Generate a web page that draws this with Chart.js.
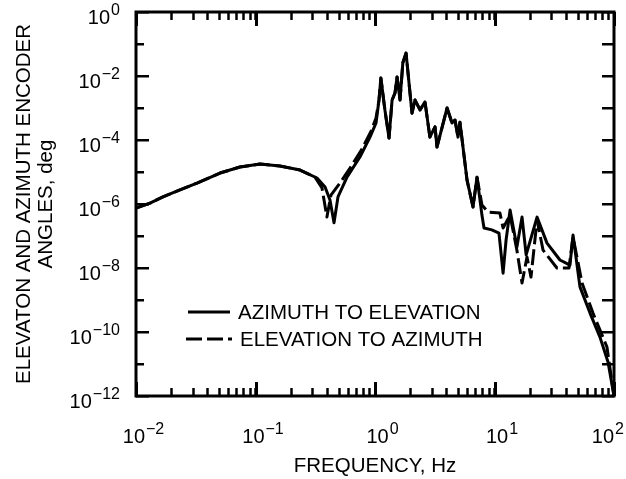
<!DOCTYPE html>
<html><head><meta charset="utf-8">
<script src="https://cdn.jsdelivr.net/npm/chart.js@4/dist/chart.umd.min.js"></script>
<style>html,body{margin:0;padding:0;background:#fff}canvas{display:block}</style>
</head><body>
<canvas id="c" width="626" height="479"></canvas>
<script>
// ---- data ----
const seriesNames = ['AZIMUTH TO ELEVATION', 'ELEVATION TO AZIMUTH'];
const azFreq = [0.01,0.0131,0.0168,0.0233,0.0324,0.0505,0.0741,0.109,0.160,0.236,0.327,0.382,0.420,0.454,0.490,0.583,0.748,0.908,1.02,1.08,1.12,1.21,1.31,1.39,1.47,1.53,1.62,1.71,1.82,1.89,2.04,2.16,2.38,2.62,2.88,3.18,3.30,4.01,4.41,4.67,4.95,5.14,5.89,6.61,7.14,7.85,8.17,9.5,10.9,11.8,12.5,13.5,15.4,17.0,18.4,22.7,27.5,35.3,42.8,45.4,51.9,63.0,76.3,89.1,100];
const azVal = [7.5e-7,1.07e-6,1.66e-6,2.75e-6,4.5e-6,9.3e-6,1.43e-5,1.78e-5,1.55e-5,1.15e-5,6.5e-6,3.4e-6,1.33e-6,2.6e-7,1.66e-6,6.9e-6,2.95e-5,1.23e-4,3.4e-4,1.78e-3,8.7e-3,8.7e-4,1.15e-4,1.78e-3,2.95e-3,9.3e-3,1.78e-3,2.6e-2,5.2e-2,1.23e-2,6.9e-4,1.78e-3,8.7e-4,1.55e-3,1.23e-4,2.57e-4,6.0e-5,1.0e-3,3.4e-4,4.2e-4,1.23e-4,3.6e-4,5.6e-6,8.1e-7,6.9e-6,4.5e-7,1.78e-7,1.55e-7,1.23e-7,6.9e-9,7.5e-8,6.5e-7,4.5e-8,3.9e-7,2.57e-8,3.9e-7,6.0e-8,1.78e-8,1.23e-8,1.07e-7,2.57e-9,3.9e-10,6.9e-11,1.15e-11,1e-12];
const elFreq = [0.01,0.0131,0.0168,0.0233,0.0324,0.0505,0.0741,0.109,0.160,0.236,0.315,0.360,0.396,0.428,0.509,0.618,0.778,0.927,1.02,1.08,1.12,1.21,1.31,1.39,1.47,1.53,1.62,1.71,1.82,1.89,2.04,2.16,2.38,2.62,2.88,3.18,3.30,4.01,4.41,4.67,4.95,5.14,5.89,6.61,7.14,7.85,8.83,11.1,11.8,13.5,15.4,17.0,18.7,20.2,22.7,25.5,33.3,42.0,45.4,54.0,66.7,87.3,100];
const elVal = [7.5e-7,1.07e-6,1.66e-6,2.75e-6,4.5e-6,9.3e-6,1.43e-5,1.78e-5,1.55e-5,1.15e-5,6.9e-6,3.2e-6,3.9e-7,1.9e-6,4.5e-6,1.33e-5,5.2e-5,1.9e-4,4.9e-4,1.78e-3,8.7e-3,8.7e-4,1.15e-4,1.78e-3,2.95e-3,9.3e-3,1.78e-3,2.6e-2,5.2e-2,1.23e-2,6.9e-4,1.78e-3,8.7e-4,1.55e-3,1.23e-4,2.57e-4,6.0e-5,1.0e-3,3.4e-4,4.2e-4,1.23e-4,3.6e-4,5.6e-6,8.1e-7,6.9e-6,9.3e-7,5.6e-7,5.2e-7,1.78e-7,4.5e-7,3.6e-8,3.4e-9,2.2e-8,5.2e-9,3.2e-7,3.6e-8,1.0e-8,1.0e-8,9.3e-8,3.4e-9,3.9e-10,3.4e-11,1e-12];
const xTickExp = [-2, -1, 0, 1, 2];
const yTickExp = [0, -2, -4, -6, -8, -10, -12];
const xMinorMult = [1, 2, 3, 4, 5, 6, 7, 8, 9];
const xTitle = 'FREQUENCY, Hz';
const yTitle = ['ELEVATON AND AZIMUTH ENCODER', 'ANGLES, deg'];

const FONT = '"Liberation Sans", Arial, Helvetica, sans-serif';
const MINUS = '\u2212';
function pts(f, v) { return f.map((x, i) => ({ x: x, y: v[i] })); }

// every x tick value: 1..9 x each decade, plus the last decade
const xTickValues = [];
xTickExp.forEach((e, i) => {
  if (i < xTickExp.length - 1) xMinorMult.forEach(m => xTickValues.push(m * Math.pow(10, e)));
  else xTickValues.push(Math.pow(10, e));
});
function setXTicks(scale) { scale.ticks = xTickValues.map(v => ({ value: v })); }

function drawPow(ctx, exp, xAnchor, baseline, align, maxRight) {
  const base = '10';
  const sup = (exp < 0 ? MINUS : '') + Math.abs(exp);
  ctx.font = '20px ' + FONT;
  const wb = ctx.measureText(base).width;
  ctx.font = '16px ' + FONT;
  const ws = ctx.measureText(sup).width;
  const tot = wb + ws;
  let x0 = (align === 'right') ? xAnchor - tot : xAnchor - tot / 2;
  if (maxRight !== undefined && x0 + tot > maxRight) x0 = maxRight - tot;
  ctx.textAlign = 'left';
  ctx.textBaseline = 'alphabetic';
  ctx.font = '20px ' + FONT;
  ctx.fillText(base, x0, baseline);
  ctx.font = '16px ' + FONT;
  ctx.fillText(sup, x0 + wb + 1, baseline - 9);
}

const frame = {
  id: 'frame',
  afterDraw(chart) {
    const ctx = chart.ctx;
    const a = chart.chartArea;
    const xs = chart.scales.x, ys = chart.scales.y;
    ctx.save();
    ctx.setLineDash([]);
    ctx.fillStyle = '#000';
    ctx.strokeStyle = '#000';
    // frame
    ctx.lineWidth = 3;
    ctx.strokeRect(a.left, a.top, a.right - a.left, a.bottom - a.top);
    // y ticks (left & right, inward) and labels
    for (let e = yTickExp[yTickExp.length - 1]; e <= yTickExp[0]; e++) {
      const py = Math.round(ys.getPixelForValue(Math.pow(10, e)));
      const L = (e % 2 === 0) ? 13 : 8;
      ctx.fillRect(a.left, py - 1, L, 2.5);
      ctx.fillRect(a.right - 12, py - 1, 12, 2.5);
    }
    yTickExp.forEach(e => {
      const py = ys.getPixelForValue(Math.pow(10, e));
      drawPow(ctx, e, a.left - 17, py + 12, 'right');
    });
    // longer x ticks at each decade, and the decade labels
    xTickExp.forEach(e => {
      const px = xs.getPixelForValue(Math.pow(10, e));
      ctx.fillRect(Math.round(px) - 1, a.bottom - 14, 3, 14);
      ctx.fillRect(Math.round(px) - 1, a.top, 3, 14);
      drawPow(ctx, e, px + 7, a.bottom + 47, 'center', chart.width - 3);
    });
    // legend
    const lx = a.left + 52, ly1 = a.top + 300, ly2 = a.top + 327;
    ctx.lineWidth = 3;
    ctx.beginPath(); ctx.moveTo(lx, ly1); ctx.lineTo(lx + 42, ly1); ctx.stroke();
    ctx.setLineDash([16, 5]);
    ctx.beginPath(); ctx.moveTo(lx - 2, ly2); ctx.lineTo(lx + 44, ly2); ctx.stroke();
    ctx.setLineDash([]);
    ctx.font = '20.5px ' + FONT;
    ctx.textAlign = 'left';
    ctx.textBaseline = 'middle';
    ctx.fillText(seriesNames[0], lx + 50, ly1 + 1);
    ctx.fillText(seriesNames[1], lx + 52, ly2 + 1);
    ctx.restore();
  }
};

const xGrid = { display: true, drawOnChartArea: false, drawTicks: true, tickLength: -8, tickWidth: 2.5, tickColor: '#000', color: '#000' };

new Chart(document.getElementById('c'), {
  type: 'line',
  data: {
    datasets: [
      { label: seriesNames[0], data: pts(azFreq, azVal), borderColor: '#000', borderWidth: 3, pointRadius: 0, tension: 0, borderJoinStyle: 'round', borderCapStyle: 'round' },
      { label: seriesNames[1], data: pts(elFreq, elVal), borderColor: '#000', borderWidth: 3, borderDash: [16, 5], pointRadius: 0, tension: 0, borderJoinStyle: 'round' }
    ]
  },
  options: {
    responsive: false, animation: false, devicePixelRatio: 1,
    layout: { padding: { top: 0, right: 12, left: 0, bottom: 0 } },
    plugins: { legend: { display: false }, tooltip: { enabled: false } },
    scales: {
      x: {
        type: 'logarithmic', position: 'bottom',
        min: Math.pow(10, xTickExp[0]), max: Math.pow(10, xTickExp[xTickExp.length - 1]),
        grid: xGrid, border: { display: false }, ticks: { display: false },
        afterBuildTicks: setXTicks,
        title: { display: true, text: xTitle, color: '#000', font: { family: FONT, size: 20.5, lineHeight: 1.05 }, padding: { top: 0, bottom: 2 } },
        afterFit(s) { s.height = 83; }
      },
      x2: {
        type: 'logarithmic', position: 'top',
        min: Math.pow(10, xTickExp[0]), max: Math.pow(10, xTickExp[xTickExp.length - 1]),
        grid: xGrid, border: { display: false }, ticks: { display: false },
        afterBuildTicks: setXTicks,
        afterFit(s) { s.height = 12; }
      },
      y: {
        type: 'logarithmic', min: Math.pow(10, yTickExp[yTickExp.length - 1]), max: Math.pow(10, yTickExp[0]),
        grid: { display: false }, border: { display: false }, ticks: { display: false },
        title: { display: true, text: yTitle, color: '#000', font: { family: FONT, size: 20.5, lineHeight: 1.05 }, padding: { top: 14, bottom: 0 } },
        afterFit(s) { s.width = 136; }
      }
    }
  },
  plugins: [frame]
});
</script>
</body></html>
